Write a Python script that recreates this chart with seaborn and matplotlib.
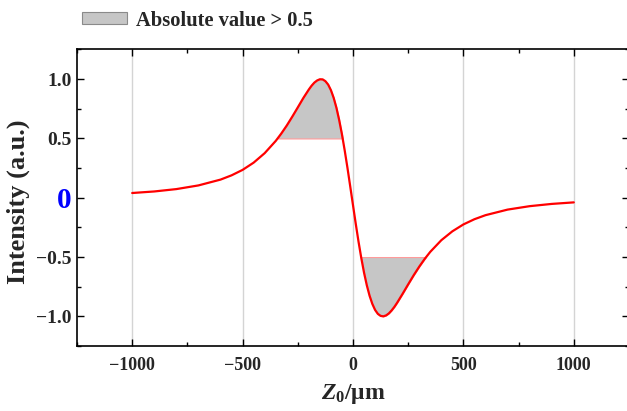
import numpy as np
import pandas as pd
import matplotlib
matplotlib.use("Agg")
import matplotlib.pyplot as plt
import seaborn as sns
from matplotlib.ticker import MultipleLocator

# ---- data ----
z_um = [-1000, -900, -800, -700, -600, -550, -500, -450, -400, -350, -325, -300,
        -275, -250, -225, -200, -187.5, -175, -162.5, -150, -137.5, -125, -112.5,
        -100, -87.5, -75, -62.5, -50, -37.5, -25, -12.5, 0, 12.5, 25, 37.5, 50,
        62.5, 75, 87.5, 100, 112.5, 125, 137.5, 150, 162.5, 175, 187.5, 200, 225,
        250, 275, 300, 325, 350, 400, 450, 500, 550, 600, 700, 800, 900, 1000]
intensity = [0.040, 0.053, 0.073, 0.104, 0.153, 0.189, 0.235, 0.296, 0.376, 0.479,
             0.541, 0.609, 0.684, 0.762, 0.841, 0.913, 0.945, 0.971, 0.989, 0.999,
             0.998, 0.983, 0.954, 0.907, 0.842, 0.758, 0.654, 0.534, 0.398, 0.251,
             0.095, -0.063, -0.220, -0.370, -0.508, -0.632, -0.738, -0.826, -0.895,
             -0.946, -0.979, -0.996, -1.000, -0.992, -0.975, -0.950, -0.920, -0.885,
             -0.809, -0.730, -0.653, -0.581, -0.515, -0.456, -0.358, -0.283, -0.225,
             -0.181, -0.147, -0.100, -0.071, -0.052, -0.039]
threshold = 0.5
xticks = [-1000, -500, 0, 500, 1000]
xtick_labels = ["\u22121000", "\u2212500", "0", "500", "1000"]
yticks = [-1.0, -0.5, 0.0, 0.5, 1.0]
ytick_labels = ["\u22121.0", "\u22120.5", "0", "0.5", "1.0"]
legend_label = "Absolute value > 0.5"
xlabel = "$Z_0$/\u03bcm"
ylabel = "Intensity (a.u.)"

df = pd.DataFrame({"z": z_um, "I": intensity})

sns.set_theme(style="white")
plt.rcParams["font.family"] = ["Liberation Serif", "DejaVu Serif"]
plt.rcParams["font.weight"] = "bold"
plt.rcParams["mathtext.fontset"] = "custom"
plt.rcParams["mathtext.it"] = "Liberation Serif:italic:bold"
plt.rcParams["mathtext.rm"] = "Liberation Serif:bold"
plt.rcParams["mathtext.bf"] = "Liberation Serif:bold"

fig = plt.figure(figsize=(6.27, 4.11), dpi=100)
ax = fig.add_axes([77 / 627, 1 - 346 / 411, (629 - 77) / 627, (346 - 49.5) / 411])

z = np.array(z_um, dtype=float)
I = np.array(intensity, dtype=float)
fill = ax.fill_between(z, I, threshold, where=I >= threshold, interpolate=True,
                       facecolor="#c6c6c6", edgecolor="#ff9a9a", linewidth=0.8,
                       label=legend_label, zorder=2)
ax.fill_between(z, I, -threshold, where=I <= -threshold, interpolate=True,
                facecolor="#c6c6c6", edgecolor="#ff9a9a", linewidth=0.8, zorder=2)
sns.lineplot(data=df, x="z", y="I", ax=ax, color="#ff0000", linewidth=1.6,
             zorder=3, legend=False)

ax.set_xlim(-1250, 1250)
ax.set_ylim(-1.25, 1.25)
ax.set_xticks(xticks)
ax.set_xticklabels(xtick_labels)
ax.set_yticks(yticks)
ax.set_yticklabels(ytick_labels)
ax.xaxis.set_minor_locator(MultipleLocator(250))
ax.yaxis.set_minor_locator(MultipleLocator(0.25))
ax.tick_params(which="both", direction="in", top=True, right=True,
               bottom=True, left=True, color="black", width=1.0)
ax.tick_params(which="major", length=5)
ax.tick_params(axis="x", which="major", pad=8, labelsize=13)
ax.tick_params(axis="y", which="major", pad=4, labelsize=14)
ax.tick_params(which="minor", length=3)
for lab in ax.get_xticklabels() + ax.get_yticklabels():
    lab.set_fontweight("bold")
for lab in ax.get_yticklabels():
    if lab.get_text() == "0":
        lab.set_color("#0000ff")
        lab.set_fontsize(21)

ax.grid(axis="x", color="#d4d4d4", linewidth=1.0)
ax.grid(axis="y", visible=False)
for sp in ax.spines.values():
    sp.set_color("black")
    sp.set_linewidth(1.2)

ax.set_xlabel(xlabel, fontsize=17, fontweight="bold", labelpad=6)
ax.set_ylabel(ylabel, fontsize=19, fontweight="bold")
ax.yaxis.set_label_coords(-0.085, 0.485)

leg = ax.legend(handles=[fill], labels=[legend_label], loc="lower left",
                bbox_to_anchor=(0.009, 1.064), frameon=False, fontsize=14.8,
                handlelength=2.2, handleheight=0.5, handletextpad=0.45,
                borderaxespad=0.0, borderpad=0.0)
for t in leg.get_texts():
    t.set_fontweight("bold")
leg.legend_handles[0].set_edgecolor("#8a8a8a")

fig.savefig("out.png", dpi=100)
